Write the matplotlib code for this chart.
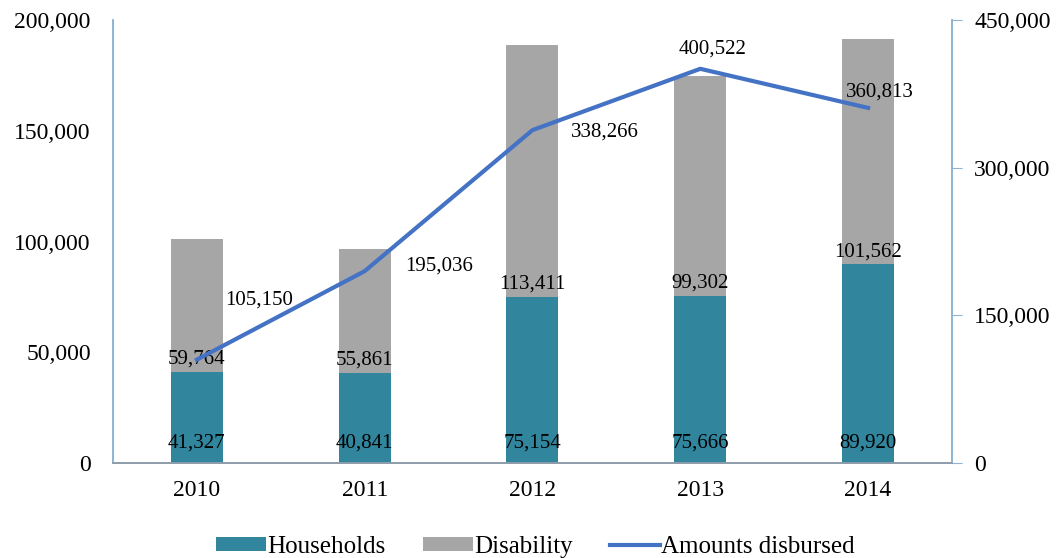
import matplotlib.pyplot as plt
from matplotlib.ticker import FuncFormatter

plt.rcParams['font.family'] = ['Liberation Serif', 'DejaVu Serif']

# dados
anos = ["2010", "2011", "2012", "2013", "2014"]
households = [41327, 40841, 75154, 75666, 89920]
disability = [59764, 55861, 113411, 99302, 101562]
amounts = [105150, 195036, 338266, 400522, 360813]

cor_house = "#31859C"
cor_dis = "#A6A6A6"
cor_linha = "#4472C4"
cor_eixo = "#8EB4D3"

fig = plt.figure(figsize=(10.6, 5.58), dpi=100)
ax = fig.add_axes([0.1066, 0.170, 0.7915, 0.794])
ax2 = ax.twinx()

x = list(range(len(anos)))
largura = 0.31
ax.bar(x, households, largura, color=cor_house, label="Households", zorder=2)
ax.bar(x, disability, largura, bottom=households, color=cor_dis, label="Disability", zorder=2)

ax.set_xlim(-0.5, 4.5)
ax.set_ylim(0, 200000)
ax.set_yticks([0, 50000, 100000, 150000, 200000])
ax2.set_ylim(0, 450000)
ax2.set_yticks([0, 150000, 300000, 450000])

fmt = FuncFormatter(lambda v, p: f"{int(v):,}")
ax.yaxis.set_major_formatter(fmt)
ax2.yaxis.set_major_formatter(fmt)
ax.set_xticks(x)
ax.set_xticklabels(anos)

# rótulos das barras
for i in x:
    ax.text(i, 9000, f"{households[i]:,}", ha="center", va="center", fontsize=15, zorder=3)
    ax.text(i, households[i] + 5500, f"{disability[i]:,}", ha="center", va="center", fontsize=15, zorder=3)

ax2.plot(x, amounts, color=cor_linha, linewidth=3, label="Amounts disbursed", zorder=4)

# posição dos rótulos da linha (deslocamento em pixels)
desloc = [(28, 60), (40, 5), (38, -2), (-22, 20), (-22, 16)]
for i in x:
    ax2.annotate(f"{amounts[i]:,}", (i, amounts[i]), xytext=desloc[i], textcoords="offset pixels",
                 ha="left", va="center", fontsize=15)

for a in (ax, ax2):
    a.spines["top"].set_visible(False)
    for s in ("left", "right"):
        a.spines[s].set_color(cor_eixo)
        a.spines[s].set_linewidth(1.2)
    a.spines["bottom"].set_color("#8C9CA8")
    a.spines["bottom"].set_linewidth(1.2)
    a.tick_params(labelsize=17, colors="black")

ax.tick_params(axis="y", length=0, pad=16)
ax.tick_params(axis="x", length=0, pad=12)
ax2.tick_params(axis="y", length=7, color=cor_eixo, pad=9)

h1, l1 = ax.get_legend_handles_labels()
h2, l2 = ax2.get_legend_handles_labels()
fig.legend(h1 + h2, l1 + l2, loc="lower center", bbox_to_anchor=(0.505, -0.04), ncol=3,
           frameon=False, fontsize=18, handlelength=2.0, handleheight=0.45, columnspacing=1.5,
           handletextpad=0.05)

plt.savefig("out.png", dpi=100)
